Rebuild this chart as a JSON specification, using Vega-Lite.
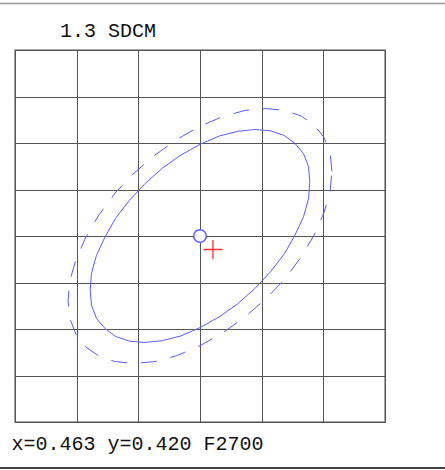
{
  "$schema": "https://vega.github.io/schema/vega-lite/v6.json",
  "width": 370,
  "height": 372,
  "autosize": {"type": "none"},
  "padding": {"left": 15, "top": 50, "right": 60, "bottom": 48},
  "background": "white",
  "config": {
    "view": {"stroke": "#888888", "strokeWidth": 1.5},
    "font": "Liberation Mono"
  },
  "title": {
    "text": "1.3 SDCM",
    "anchor": "start",
    "frame": "group",
    "dx": 45,
    "dy": 68.5,
    "offset": 14,
    "baseline": "alphabetic",
    "font": "Liberation Mono",
    "fontSize": 20,
    "fontWeight": "normal",
    "color": "#111111"
  },
  "datasets": {
    "inner": [
      {"t": 0, "x": 0.46478, "y": 0.42116},
      {"t": 10, "x": 0.46476, "y": 0.42149},
      {"t": 20, "x": 0.46468, "y": 0.42177},
      {"t": 30, "x": 0.46454, "y": 0.42199},
      {"t": 40, "x": 0.46437, "y": 0.42216},
      {"t": 50, "x": 0.46415, "y": 0.42226},
      {"t": 60, "x": 0.46389, "y": 0.42229},
      {"t": 70, "x": 0.46361, "y": 0.42225},
      {"t": 80, "x": 0.46331, "y": 0.42215},
      {"t": 90, "x": 0.463, "y": 0.42197},
      {"t": 100, "x": 0.46269, "y": 0.42174},
      {"t": 110, "x": 0.46239, "y": 0.42146},
      {"t": 120, "x": 0.46211, "y": 0.42113},
      {"t": 130, "x": 0.46185, "y": 0.42076},
      {"t": 140, "x": 0.46163, "y": 0.42038},
      {"t": 150, "x": 0.46146, "y": 0.41998},
      {"t": 160, "x": 0.46132, "y": 0.41958},
      {"t": 170, "x": 0.46124, "y": 0.4192},
      {"t": 180, "x": 0.46122, "y": 0.41884},
      {"t": 190, "x": 0.46124, "y": 0.41851},
      {"t": 200, "x": 0.46132, "y": 0.41823},
      {"t": 210, "x": 0.46146, "y": 0.41801},
      {"t": 220, "x": 0.46163, "y": 0.41784},
      {"t": 230, "x": 0.46185, "y": 0.41774},
      {"t": 240, "x": 0.46211, "y": 0.41771},
      {"t": 250, "x": 0.46239, "y": 0.41775},
      {"t": 260, "x": 0.46269, "y": 0.41785},
      {"t": 270, "x": 0.463, "y": 0.41803},
      {"t": 280, "x": 0.46331, "y": 0.41826},
      {"t": 290, "x": 0.46361, "y": 0.41854},
      {"t": 300, "x": 0.46389, "y": 0.41887},
      {"t": 310, "x": 0.46415, "y": 0.41924},
      {"t": 320, "x": 0.46437, "y": 0.41962},
      {"t": 330, "x": 0.46454, "y": 0.42002},
      {"t": 340, "x": 0.46468, "y": 0.42042},
      {"t": 350, "x": 0.46476, "y": 0.4208}
    ],
    "outer": [
      {"t": 0, "x": 0.46514, "y": 0.42139},
      {"t": 10, "x": 0.46511, "y": 0.42178},
      {"t": 20, "x": 0.46501, "y": 0.42212},
      {"t": 30, "x": 0.46485, "y": 0.42239},
      {"t": 40, "x": 0.46464, "y": 0.42258},
      {"t": 50, "x": 0.46438, "y": 0.4227},
      {"t": 60, "x": 0.46407, "y": 0.42274},
      {"t": 70, "x": 0.46373, "y": 0.4227},
      {"t": 80, "x": 0.46337, "y": 0.42257},
      {"t": 90, "x": 0.463, "y": 0.42236},
      {"t": 100, "x": 0.46263, "y": 0.42208},
      {"t": 110, "x": 0.46227, "y": 0.42174},
      {"t": 120, "x": 0.46193, "y": 0.42135},
      {"t": 130, "x": 0.46162, "y": 0.42092},
      {"t": 140, "x": 0.46136, "y": 0.42045},
      {"t": 150, "x": 0.46115, "y": 0.41998},
      {"t": 160, "x": 0.46099, "y": 0.4195},
      {"t": 170, "x": 0.46089, "y": 0.41904},
      {"t": 180, "x": 0.46086, "y": 0.41861},
      {"t": 190, "x": 0.46089, "y": 0.41822},
      {"t": 200, "x": 0.46099, "y": 0.41788},
      {"t": 210, "x": 0.46115, "y": 0.41761},
      {"t": 220, "x": 0.46136, "y": 0.41742},
      {"t": 230, "x": 0.46162, "y": 0.4173},
      {"t": 240, "x": 0.46193, "y": 0.41726},
      {"t": 250, "x": 0.46227, "y": 0.4173},
      {"t": 260, "x": 0.46263, "y": 0.41743},
      {"t": 270, "x": 0.463, "y": 0.41764},
      {"t": 280, "x": 0.46337, "y": 0.41792},
      {"t": 290, "x": 0.46373, "y": 0.41826},
      {"t": 300, "x": 0.46407, "y": 0.41865},
      {"t": 310, "x": 0.46438, "y": 0.41908},
      {"t": 320, "x": 0.46464, "y": 0.41955},
      {"t": 330, "x": 0.46485, "y": 0.42002},
      {"t": 340, "x": 0.46501, "y": 0.4205},
      {"t": 350, "x": 0.46511, "y": 0.42096}
    ],
    "center": [{"x": 0.463, "y": 0.42}],
    "measured": [{"x": 0.46321, "y": 0.41971}]
  },
  "layer": [
    {
      "data": {"name": "inner"},
      "mark": {"type": "line", "interpolate": "linear-closed", "color": "#5b5bff", "strokeWidth": 1},
      "encoding": {
        "x": {
          "field": "x", "type": "quantitative",
          "scale": {"domain": [0.46, 0.466], "nice": false, "zero": false},
          "axis": {
            "values": [0.46, 0.461, 0.462, 0.463, 0.464, 0.465, 0.466],
            "grid": true, "gridColor": "#555555", "gridWidth": 1,
            "labels": false, "ticks": false, "domain": false,
            "title": "x=0.463 y=0.420 F2700",
            "titleFont": "Liberation Mono", "titleFontSize": 20, "titleFontWeight": "normal",
            "titleColor": "#111111", "titleAnchor": "start", "titleAlign": "left",
            "titleBaseline": "alphabetic", "titleX": -4, "titleY": 27
          }
        },
        "y": {
          "field": "y", "type": "quantitative",
          "scale": {"domain": [0.416, 0.424], "nice": false, "zero": false},
          "axis": {
            "values": [0.416, 0.417, 0.418, 0.419, 0.42, 0.421, 0.422, 0.423, 0.424],
            "grid": true, "gridColor": "#555555", "gridWidth": 1,
            "labels": false, "ticks": false, "domain": false, "title": null
          }
        },
        "order": {"field": "t", "type": "quantitative"}
      }
    },
    {
      "data": {"name": "outer"},
      "mark": {"type": "line", "interpolate": "linear-closed", "color": "#5b5bff", "strokeWidth": 1, "strokeDash": [16, 14]},
      "encoding": {
        "x": {"field": "x", "type": "quantitative"},
        "y": {"field": "y", "type": "quantitative"},
        "order": {"field": "t", "type": "quantitative"}
      }
    },
    {
      "data": {"name": "center"},
      "mark": {"type": "point", "shape": "circle", "size": 160, "filled": true, "fill": "white", "stroke": "#5b5bff", "strokeWidth": 1.5, "opacity": 1},
      "encoding": {
        "x": {"field": "x", "type": "quantitative"},
        "y": {"field": "y", "type": "quantitative"}
      }
    },
    {
      "data": {"name": "measured"},
      "mark": {"type": "point", "shape": "M-1,0L1,0M0,-1L0,1", "size": 361, "filled": false, "stroke": "#ff3030", "strokeWidth": 1.3, "opacity": 1},
      "encoding": {
        "x": {"field": "x", "type": "quantitative"},
        "y": {"field": "y", "type": "quantitative"}
      }
    },
    {
      "data": {"values": [{}]},
      "mark": {"type": "rule", "color": "#999999", "strokeWidth": 1.5},
      "encoding": {"y": {"datum": 0.425}, "x": {"datum": 0.4597}, "x2": {"datum": 0.467}}
    },
    {
      "data": {"values": [{}]},
      "mark": {"type": "rule", "color": "#444444", "strokeWidth": 2},
      "encoding": {"y": {"datum": 0.41501}, "x": {"datum": 0.4597}, "x2": {"datum": 0.467}}
    }
  ]
}
